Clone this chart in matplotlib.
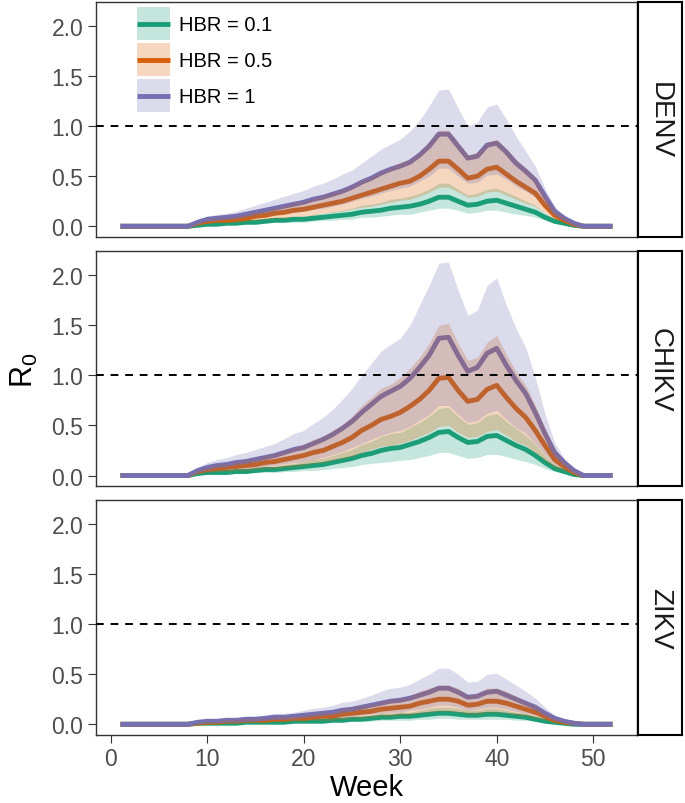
import matplotlib
matplotlib.use("Agg")
import matplotlib.pyplot as plt
from matplotlib.patches import Rectangle
from matplotlib.lines import Line2D
from matplotlib.legend_handler import HandlerBase

plt.rcParams['font.family'] = ['Liberation Sans', 'DejaVu Sans']

weeks = list(range(1, 53))
viruses = ["DENV", "CHIKV", "ZIKV"]
hbr_labels = ["HBR = 0.1", "HBR = 0.5", "HBR = 1"]
colors = ["#1B9E77", "#D95F02", "#7570B3"]

# ---- DENV ----
denv_01_mid = [0, 0, 0, 0, 0, 0, 0, 0,
               .01, .02, .02, .03, .03, .04, .04, .05, .06, .06,
               .07, .07, .08, .09, .10, .11, .12, .14, .15, .16,
               .18, .19, .20, .22, .25, .29, .29, .25, .21, .22,
               .25, .26, .23, .20, .17, .14, .09, .05, .03, .01,
               0, 0, 0, 0]
denv_01_hi = [0, 0, 0, 0, 0, 0, 0, 0,
              .02, .03, .03, .04, .04, .06, .06, .07, .09, .09,
              .10, .10, .12, .13, .15, .16, .18, .21, .22, .24,
              .27, .28, .30, .33, .37, .43, .43, .37, .31, .33,
              .37, .38, .34, .30, .25, .21, .13, .07, .04, .01,
              0, 0, 0, 0]
denv_01_lo = [0, 0, 0, 0, 0, 0, 0, 0,
              .01, .01, .01, .02, .02, .02, .02, .03, .04, .04,
              .04, .04, .05, .06, .06, .07, .07, .09, .09, .10,
              .11, .12, .12, .14, .16, .18, .18, .16, .13, .14,
              .16, .16, .14, .12, .11, .09, .06, .03, .02, .01,
              0, 0, 0, 0]
denv_05_mid = [0, 0, 0, 0, 0, 0, 0, 0,
               .03, .05, .06, .06, .07, .08, .10, .11, .13, .14,
               .16, .17, .19, .21, .23, .25, .28, .31, .34, .37,
               .40, .43, .45, .50, .57, .65, .65, .57, .48, .50,
               .57, .59, .52, .45, .39, .33, .21, .11, .06, .02,
               0, 0, 0, 0]
denv_05_hi = [0, 0, 0, 0, 0, 0, 0, 0,
              .04, .07, .09, .09, .10, .12, .15, .16, .19, .21,
              .24, .25, .28, .31, .34, .37, .41, .46, .50, .55,
              .59, .64, .67, .74, .84, .96, .96, .84, .71, .74,
              .84, .87, .77, .67, .58, .49, .31, .16, .09, .03,
              0, 0, 0, 0]
denv_05_lo = [0, 0, 0, 0, 0, 0, 0, 0,
              .02, .03, .04, .04, .04, .05, .06, .07, .08, .08,
              .10, .10, .11, .13, .14, .15, .17, .19, .20, .22,
              .24, .26, .27, .30, .34, .39, .39, .34, .29, .30,
              .34, .35, .31, .27, .23, .20, .13, .07, .04, .01,
              0, 0, 0, 0]
denv_1_mid = [0, 0, 0, 0, 0, 0, 0, 0,
              .04, .07, .08, .09, .10, .12, .14, .16, .18, .20,
              .22, .24, .27, .29, .32, .35, .39, .44, .48, .53,
              .57, .60, .64, .71, .80, .92, .92, .80, .68, .70,
              .81, .83, .74, .63, .55, .46, .30, .15, .08, .03,
              0, 0, 0, 0]
denv_1_hi = [0, 0, 0, 0, 0, 0, 0, 0,
             .06, .10, .12, .13, .15, .18, .21, .24, .27, .30,
             .33, .36, .40, .43, .47, .52, .56, .63, .70, .77,
             .82, .87, .95, 1.06, 1.20, 1.36, 1.37, 1.18, 1.00, 1.04,
             1.19, 1.22, 1.07, .90, .75, .60, .38, .20, .10, .04,
             0, 0, 0, 0]
denv_1_lo = [0, 0, 0, 0, 0, 0, 0, 0,
             .03, .04, .05, .06, .06, .08, .09, .10, .11, .13,
             .14, .15, .17, .18, .20, .22, .25, .28, .30, .33,
             .36, .38, .40, .45, .50, .58, .58, .50, .43, .44,
             .51, .52, .47, .40, .35, .29, .19, .09, .05, .02,
             0, 0, 0, 0]

# ---- CHIKV ----
chikv_01_mid = [0, 0, 0, 0, 0, 0, 0, 0,
                .02, .03, .03, .03, .04, .04, .05, .06, .06, .07,
                .08, .09, .10, .11, .13, .15, .17, .20, .22, .25,
                .27, .28, .31, .34, .38, .43, .44, .38, .33, .34,
                .39, .40, .35, .30, .26, .20, .13, .07, .04, .01,
                0, 0, 0, 0]
chikv_01_hi = [0, 0, 0, 0, 0, 0, 0, 0,
               .03, .05, .05, .05, .06, .06, .08, .09, .09, .11,
               .12, .14, .16, .17, .20, .23, .26, .31, .34, .39,
               .42, .43, .48, .53, .59, .67, .68, .59, .51, .53,
               .60, .62, .54, .47, .40, .31, .20, .11, .06, .02,
               0, 0, 0, 0]
chikv_01_lo = [0, 0, 0, 0, 0, 0, 0, 0,
               .01, .02, .02, .02, .02, .02, .03, .03, .03, .04,
               .04, .05, .05, .06, .07, .08, .09, .11, .12, .13,
               .14, .15, .16, .18, .20, .23, .23, .20, .17, .18,
               .21, .21, .19, .16, .14, .11, .07, .04, .02, .01,
               0, 0, 0, 0]
chikv_05_mid = [0, 0, 0, 0, 0, 0, 0, 0,
                .04, .06, .07, .08, .09, .10, .11, .13, .14, .16,
                .18, .20, .23, .25, .29, .33, .38, .45, .50, .56,
                .59, .63, .69, .76, .85, .97, .98, .85, .74, .76,
                .86, .90, .78, .67, .58, .45, .30, .16, .09, .03,
                0, 0, 0, 0]
chikv_05_hi = [0, 0, 0, 0, 0, 0, 0, 0,
               .06, .09, .11, .12, .14, .16, .17, .20, .22, .25,
               .28, .31, .36, .39, .45, .51, .59, .70, .78, .87,
               .91, .98, 1.07, 1.18, 1.32, 1.50, 1.52, 1.32, 1.15, 1.18,
               1.33, 1.40, 1.21, 1.04, .90, .70, .47, .25, .14, .05,
               0, 0, 0, 0]
chikv_05_lo = [0, 0, 0, 0, 0, 0, 0, 0,
               .02, .03, .04, .04, .05, .05, .06, .07, .07, .08,
               .09, .10, .12, .13, .15, .17, .19, .23, .26, .29,
               .30, .32, .35, .39, .43, .49, .50, .43, .38, .39,
               .44, .46, .40, .34, .30, .23, .15, .08, .05, .02,
               0, 0, 0, 0]
chikv_1_mid = [0, 0, 0, 0, 0, 0, 0, 0,
               .05, .08, .10, .11, .13, .14, .16, .18, .20, .23,
               .26, .28, .32, .36, .41, .47, .54, .63, .71, .79,
               .84, .89, .97, 1.08, 1.20, 1.37, 1.38, 1.20, 1.04, 1.08,
               1.22, 1.27, 1.10, .95, .82, .63, .42, .23, .13, .05,
               0, 0, 0, 0]
chikv_1_hi = [0, 0, 0, 0, 0, 0, 0, 0,
              .08, .13, .16, .18, .21, .23, .26, .29, .32, .37,
              .42, .45, .52, .58, .66, .76, .87, 1.00, 1.12, 1.24,
              1.31, 1.37, 1.50, 1.70, 1.90, 2.12, 2.13, 1.85, 1.60, 1.65,
              1.90, 1.97, 1.70, 1.47, 1.28, .98, .62, .33, .17, .06,
              0, 0, 0, 0]
chikv_1_lo = [0, 0, 0, 0, 0, 0, 0, 0,
              .03, .04, .05, .06, .07, .07, .08, .09, .10, .12,
              .13, .14, .16, .18, .21, .24, .28, .32, .36, .40,
              .43, .45, .49, .55, .61, .70, .70, .61, .53, .55,
              .62, .65, .56, .48, .42, .32, .21, .11, .06, .02,
              0, 0, 0, 0]

# ---- ZIKV ----
zikv_01_mid = [0, 0, 0, 0, 0, 0, 0, 0,
               .01, .01, .01, .01, .01, .02, .02, .02, .02, .02,
               .03, .03, .03, .03, .04, .04, .05, .05, .06, .07,
               .07, .08, .08, .09, .10, .11, .11, .10, .09, .09,
               .10, .10, .09, .08, .07, .05, .03, .02, .01, 0,
               0, 0, 0, 0]
zikv_01_hi = [0, 0, 0, 0, 0, 0, 0, 0,
              .02, .02, .02, .02, .02, .03, .03, .03, .03, .03,
              .05, .05, .05, .05, .06, .06, .08, .08, .09, .11,
              .11, .12, .12, .14, .16, .17, .17, .16, .14, .14,
              .16, .16, .14, .12, .11, .08, .05, .03, .02, 0,
              0, 0, 0, 0]
zikv_01_lo = [0, 0, 0, 0, 0, 0, 0, 0,
              0, .01, .01, .01, .01, .01, .01, .01, .01, .01,
              .02, .02, .02, .02, .02, .02, .03, .03, .03, .04,
              .04, .04, .04, .05, .05, .06, .06, .05, .05, .05,
              .05, .05, .05, .04, .04, .03, .02, .01, .01, 0,
              0, 0, 0, 0]
zikv_05_mid = [0, 0, 0, 0, 0, 0, 0, 0,
               .01, .02, .02, .03, .03, .04, .04, .04, .05, .05,
               .06, .06, .07, .08, .08, .10, .11, .12, .13, .15,
               .16, .17, .18, .21, .23, .25, .25, .23, .19, .20,
               .23, .23, .21, .18, .15, .12, .08, .04, .02, .01,
               0, 0, 0, 0]
zikv_05_hi = [0, 0, 0, 0, 0, 0, 0, 0,
              .02, .03, .03, .05, .05, .06, .06, .06, .08, .08,
              .09, .09, .11, .12, .12, .16, .17, .19, .20, .23,
              .25, .26, .28, .33, .36, .39, .39, .36, .29, .31,
              .36, .36, .33, .28, .23, .19, .12, .06, .03, .02,
              0, 0, 0, 0]
zikv_05_lo = [0, 0, 0, 0, 0, 0, 0, 0,
              .01, .01, .01, .02, .02, .02, .02, .02, .03, .03,
              .03, .03, .04, .04, .04, .05, .06, .06, .07, .08,
              .08, .09, .09, .11, .12, .13, .13, .12, .10, .10,
              .12, .12, .11, .09, .08, .06, .04, .02, .01, .01,
              0, 0, 0, 0]
zikv_1_mid = [0, 0, 0, 0, 0, 0, 0, 0,
              .02, .03, .03, .04, .04, .05, .05, .06, .07, .07,
              .08, .09, .10, .11, .12, .14, .15, .17, .19, .21,
              .23, .24, .26, .29, .32, .36, .36, .32, .27, .28,
              .32, .33, .29, .25, .21, .17, .11, .06, .03, .01,
              0, 0, 0, 0]
zikv_1_hi = [0, 0, 0, 0, 0, 0, 0, 0,
             .03, .05, .05, .06, .06, .08, .08, .09, .11, .11,
             .12, .14, .16, .17, .19, .22, .23, .26, .29, .33,
             .36, .37, .40, .45, .50, .56, .56, .50, .42, .43,
             .50, .51, .45, .39, .33, .26, .17, .09, .05, .02,
             0, 0, 0, 0]
zikv_1_lo = [0, 0, 0, 0, 0, 0, 0, 0,
             .01, .02, .02, .02, .02, .03, .03, .03, .04, .04,
             .04, .05, .05, .06, .06, .07, .08, .09, .10, .11,
             .12, .12, .14, .15, .17, .19, .19, .17, .14, .15,
             .17, .17, .15, .13, .11, .09, .06, .03, .02, .01,
             0, 0, 0, 0]

series = {
    "DENV": [(denv_01_mid, denv_01_lo, denv_01_hi),
             (denv_05_mid, denv_05_lo, denv_05_hi),
             (denv_1_mid, denv_1_lo, denv_1_hi)],
    "CHIKV": [(chikv_01_mid, chikv_01_lo, chikv_01_hi),
              (chikv_05_mid, chikv_05_lo, chikv_05_hi),
              (chikv_1_mid, chikv_1_lo, chikv_1_hi)],
    "ZIKV": [(zikv_01_mid, zikv_01_lo, zikv_01_hi),
             (zikv_05_mid, zikv_05_lo, zikv_05_hi),
             (zikv_1_mid, zikv_1_lo, zikv_1_hi)],
}


class RibbonKey(HandlerBase):
    # ggplot-style key: light ribbon square with the line across its middle
    def create_artists(self, legend, orig_handle, xdescent, ydescent,
                       width, height, fontsize, trans):
        c = orig_handle.get_color()
        rect = Rectangle((-xdescent, -ydescent), width, height, facecolor=c,
                         alpha=0.25, lw=0, transform=trans)
        yc = -ydescent + height / 2
        line = Line2D([-xdescent, -xdescent + width], [yc, yc], color=c,
                      lw=3.5, solid_capstyle='butt', transform=trans)
        return [rect, line]


fig = plt.figure(figsize=(6.85, 8.04), dpi=100)

left, width = 0.140, 0.790
height = 0.292
bottoms = [0.704, 0.394, 0.0846]

axes = []
for i, virus in enumerate(viruses):
    ax = fig.add_axes([left, bottoms[i], width, height])
    axes.append(ax)
    # lines first, ribbons drawn over them (as in the original)
    for (mid, lo, hi), c in zip(series[virus], colors):
        ax.plot(weeks, mid, color=c, lw=3.5, solid_joinstyle='round',
                solid_capstyle='butt', zorder=2)
    for (mid, lo, hi), c in zip(series[virus], colors):
        ax.fill_between(weeks, lo, hi, color=c, alpha=0.25, lw=0, zorder=3)
    ax.axhline(1, color='black', lw=1.4, dashes=(4, 3.5), zorder=4)

    ax.set_xlim(-1.55, 54.55)
    ax.set_ylim(-0.107, 2.237)
    ax.set_yticks([0, 0.5, 1.0, 1.5, 2.0])
    ax.set_yticklabels(["0.0", "0.5", "1.0", "1.5", "2.0"])
    ax.set_xticks([0, 10, 20, 30, 40, 50])
    ax.tick_params(length=5.5, width=0.8, color='#333333',
                   labelcolor='#4D4D4D', labelsize=16.5, pad=3.5)
    if i < 2:
        ax.tick_params(bottom=False, labelbottom=False)
    for sp in ax.spines.values():
        sp.set_color('#333333')
        sp.set_linewidth(1.0)

    sax = fig.add_axes([0.931, bottoms[i], 0.064, height])
    sax.set_xticks([])
    sax.set_yticks([])
    for sp in sax.spines.values():
        sp.set_color('black')
        sp.set_linewidth(1.5)
    sax.text(0.5, 0.5, virus, rotation=270, ha='center', va='center',
             fontsize=20, color='#1A1A1A', transform=sax.transAxes)

handles = [Line2D([], [], color=c) for c in colors]
axes[0].legend(handles=handles, labels=hbr_labels, loc='upper left',
               bbox_to_anchor=(0.076, 0.979), frameon=False,
               handler_map={Line2D: RibbonKey()},
               handlelength=1.64, handleheight=2.15, labelspacing=0.15,
               handletextpad=0.45, borderpad=0, borderaxespad=0,
               fontsize=14.5)

fig.text(0.535, 0.02, "Week", ha='center', va='center', fontsize=21)
fig.text(0.035, 0.54, r"R$_\mathregular{0}$", rotation=90, ha='center',
         va='center', fontsize=22)

fig.savefig("out.png", dpi=100)
